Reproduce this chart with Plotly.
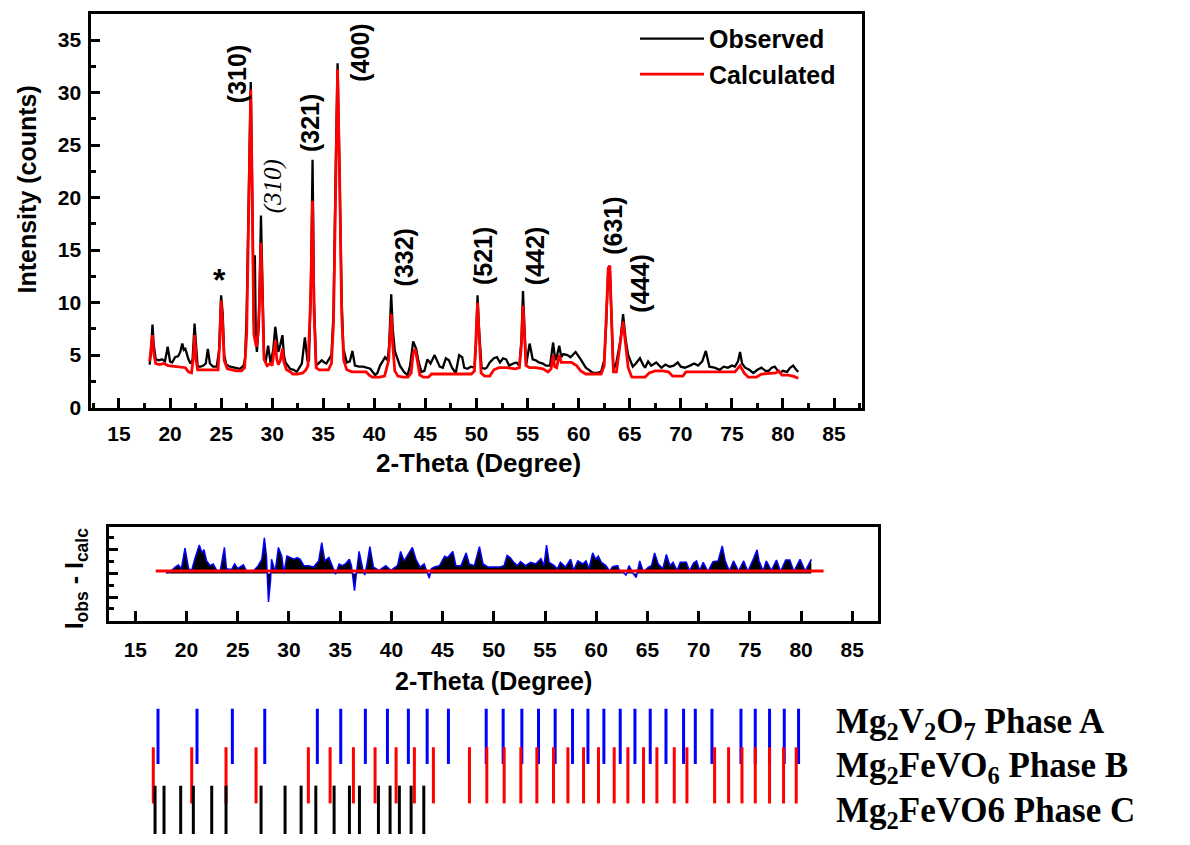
import plotly.graph_objects as go

W, H = 1190, 845


def px(x):
    return x / W


def py(y):
    return 1 - y / H


# ---------------- data ----------------
obs_theta = [18.0, 18.15, 18.28, 18.4, 18.6, 18.9, 19.2, 19.5, 19.77, 20.0, 20.2, 20.5, 20.8, 21.0, 21.2, 21.35,
             21.5, 21.8, 22.0, 22.2, 22.4, 22.55, 22.7, 23.0, 23.26, 23.5, 23.7, 23.9, 24.2, 24.57, 24.8, 25.0,
             25.15, 25.3, 25.5, 25.87, 26.3, 26.85, 27.2, 27.35, 27.5, 27.7, 27.9, 28.05, 28.2, 28.3, 28.4, 28.5,
             28.7, 28.9, 29.05, 29.2, 29.35, 29.6, 29.85, 30.1, 30.3, 30.5, 30.6, 30.8, 31.0, 31.15, 31.3, 31.75,
             32.1, 32.4, 32.9, 33.2, 33.45, 33.6, 33.8, 33.95, 34.1, 34.3, 34.6, 34.85, 35.1, 35.3, 35.8, 36.0,
             36.2, 36.4, 36.6, 36.8, 36.97, 37.3, 37.6, 37.85, 38.1, 38.5, 38.9, 39.3, 39.6, 40.07, 40.3, 40.56,
             41.05, 41.3, 41.45, 41.65, 41.8, 42.0, 42.3, 42.5, 42.9, 43.25, 43.5, 43.8, 44.1, 44.3, 44.6, 44.9,
             45.2, 45.5, 45.9, 46.2, 46.4, 46.7, 47.0, 47.3, 47.6, 47.97, 48.3, 48.6, 48.8, 49.1, 49.45, 49.8,
             49.95, 50.1, 50.25, 50.5, 50.8, 51.0, 51.3, 51.7, 52.0, 52.3, 52.6, 52.9, 53.2, 53.6, 53.9, 54.2,
             54.4, 54.55, 54.7, 54.85, 55.2, 55.5, 55.8, 56.1, 56.5, 56.8, 57.2, 57.5, 57.7, 57.8, 58.1, 58.3,
             58.5, 58.9, 59.2, 59.7, 60.2, 60.7, 61.0, 61.4, 61.8, 62.2, 62.5, 62.7, 62.9, 63.05, 63.2, 63.4,
             63.7, 64.1, 64.35, 64.6, 64.85, 65.3, 65.6, 66.0, 66.3, 66.5, 66.8, 67.1, 67.6, 68.1, 68.5, 68.9,
             69.3, 69.7, 70.0, 70.4, 70.9, 71.3, 71.7, 72.1, 72.45, 72.8, 73.3, 73.8, 74.2, 74.6, 75.0, 75.3,
             75.6, 75.8, 76.0, 76.3, 76.7, 77.1, 77.5, 77.9, 78.3, 78.6, 78.9, 79.2, 79.5, 79.7, 80.0, 80.4,
             80.7, 81.0, 81.3, 81.5]
obs_int = [4.1, 5.5, 7.9, 6.0, 4.6, 4.5, 4.6, 4.4, 5.8, 4.4, 4.3, 4.8, 4.9, 5.3, 6.1, 5.5,
           5.6, 4.6, 4.2, 4.5, 8.0, 5.5, 3.9, 3.9, 4.0, 4.2, 5.6, 4.2, 3.9, 3.9, 5.5, 10.7,
           9.0, 5.0, 4.1, 3.9, 3.8, 3.7, 4.0, 4.7, 9.1, 20.0, 31.0, 20.0, 8.0, 14.5, 6.5, 5.3,
           8.0, 18.3, 10.0, 5.0, 4.3, 5.9, 4.2, 5.5, 7.7, 5.8, 5.3, 6.0, 6.9, 5.0, 4.3, 3.7,
           3.6, 3.4, 4.2, 6.7, 4.5, 4.5, 12.0, 23.6, 10.0, 4.0, 4.3, 4.5, 4.3, 4.2, 5.0, 9.0,
           22.0, 32.8, 22.0, 10.3, 5.6, 4.3, 4.4, 5.4, 4.0, 3.9, 3.9, 3.8, 3.7, 3.1, 3.3, 4.0,
           4.8, 4.5, 6.0, 10.8, 7.5, 5.4, 4.6, 4.0, 3.4, 3.1, 4.0, 6.3, 5.6, 4.5, 3.4, 3.5,
           4.6, 4.2, 5.0, 4.4, 3.9, 3.8, 4.7, 4.5, 3.8, 3.3, 5.0, 4.8, 3.8, 3.7, 3.9, 3.8,
           6.0, 10.7, 7.5, 3.8, 3.7, 3.8, 4.3, 4.7, 4.8, 4.3, 4.7, 4.6, 4.0, 4.2, 4.3, 4.0,
           6.5, 11.1, 7.5, 4.0, 6.1, 4.6, 4.5, 4.3, 4.2, 4.0, 4.0, 6.2, 4.6, 4.6, 5.9, 4.8,
           5.1, 5.0, 4.8, 5.3, 4.6, 3.8, 3.6, 3.3, 3.3, 3.4, 4.5, 8.0, 13.3, 13.5, 9.0, 3.6,
           4.3, 6.5, 8.9, 6.5, 5.0, 3.9, 4.2, 4.7, 4.1, 3.8, 4.4, 4.0, 4.3, 3.8, 4.1, 3.9,
           4.0, 4.3, 3.9, 3.8, 4.0, 4.2, 4.0, 4.4, 5.4, 3.9, 3.8, 3.6, 3.9, 3.8, 4.0, 3.9,
           4.4, 5.3, 4.2, 3.8, 3.6, 3.3, 3.6, 3.8, 3.5, 3.5, 3.8, 3.9, 3.5, 3.3, 3.5, 3.4,
           3.8, 4.0, 3.6, 3.4]

calc_theta = [18.0, 18.15, 18.28, 18.4, 18.6, 19.0, 19.4, 19.8, 20.5, 21.0, 21.5, 21.8, 22.1, 22.3, 22.42, 22.55,
              22.7, 23.5, 24.2, 24.7, 24.85, 25.0, 25.15, 25.3, 25.6, 26.0, 26.5, 27.0, 27.3, 27.5, 27.7, 27.9,
              28.05, 28.2, 28.3, 28.45, 28.6, 28.75, 28.9, 29.05, 29.2, 29.5, 29.8, 30.0, 30.2, 30.3, 30.45, 30.6,
              30.8, 31.0, 31.15, 31.4, 31.8, 32.0, 32.5, 33.0, 33.3, 33.5, 33.75, 33.95, 34.1, 34.3, 34.6, 35.0,
              35.5, 35.8, 36.0, 36.2, 36.4, 36.6, 36.8, 37.0, 37.3, 37.8, 38.5, 39.2, 39.5, 39.8, 40.5, 41.0,
              41.4, 41.65, 41.8, 42.0, 42.3, 42.8, 43.3, 43.6, 43.8, 44.0, 44.2, 44.45, 44.8, 45.3, 45.6, 46.5,
              47.5, 48.5, 49.5, 49.8, 49.95, 50.1, 50.25, 50.45, 50.8, 51.3, 51.7, 52.2, 53.0, 53.8, 54.2, 54.4,
              54.55, 54.7, 54.85, 55.2, 55.8, 56.5, 57.0, 57.3, 57.5, 57.65, 57.85, 58.1, 58.3, 58.7, 59.3, 59.8,
              60.2, 60.7, 61.5, 62.2, 62.5, 62.7, 62.9, 63.05, 63.2, 63.4, 63.7, 64.0, 64.35, 64.6, 64.85, 65.2,
              65.8, 66.5, 66.9, 67.5, 68.2, 68.8, 69.2, 69.8, 70.2, 70.5, 71.5, 72.5, 73.5, 74.5, 75.3, 75.8,
              76.2, 76.6, 77.4, 77.9, 78.8, 79.3, 79.6, 79.9, 80.5, 81.0, 81.5]
calc_int = [4.4, 5.5, 6.9, 5.2, 4.2, 4.1, 4.2, 4.0, 3.9, 3.9, 3.8, 3.4, 3.3, 5.0, 6.9, 4.5,
            3.6, 3.6, 3.6, 3.6, 6.0, 10.2, 8.0, 4.5, 3.7, 3.6, 3.5, 3.5, 3.8, 7.0, 20.0, 30.3,
            20.0, 7.0, 6.5, 5.8, 7.0, 10.0, 15.7, 9.0, 4.6, 4.0, 4.2, 4.0, 5.5, 6.4, 4.6, 4.1,
            4.5, 5.6, 4.3, 3.6, 3.4, 3.2, 3.2, 3.3, 3.6, 4.0, 10.0, 19.7, 9.0, 3.8, 3.6, 3.6,
            3.6, 4.2, 8.0, 20.0, 32.2, 22.0, 9.0, 4.5, 3.6, 3.4, 3.4, 3.4, 3.1, 2.9, 2.9, 3.0,
            4.5, 8.9, 6.0, 3.5, 3.0, 2.9, 2.9, 3.3, 5.2, 5.6, 4.5, 3.1, 2.9, 2.9, 3.2, 3.2,
            3.2, 3.2, 3.2, 3.5, 6.5, 10.0, 7.0, 3.3, 3.0, 3.0, 3.6, 3.8, 3.8, 3.7, 3.8, 6.0,
            9.7, 7.0, 4.0, 3.8, 3.8, 3.7, 3.4, 3.7, 5.0, 3.9, 3.8, 5.0, 4.3, 4.3, 4.3, 4.0,
            3.5, 3.2, 3.2, 3.2, 4.0, 8.0, 13.3, 13.5, 9.0, 3.4, 3.4, 5.5, 8.2, 6.0, 3.8, 2.9,
            2.9, 2.9, 3.3, 3.5, 3.5, 3.4, 3.0, 3.0, 3.0, 3.4, 3.4, 3.4, 3.4, 3.4, 3.4, 4.0,
            3.3, 2.9, 2.9, 3.2, 3.3, 3.3, 3.5, 3.1, 3.1, 3.0, 2.8]

resid_theta = [17.99, 18.4, 18.9, 19.2, 19.5, 19.85, 20.2, 20.5, 20.8, 21.25, 21.5, 21.7, 21.96, 22.3, 22.6, 22.95,
               23.3, 23.7, 23.9, 24.4, 24.7, 25.0, 25.55, 25.9, 26.5, 27.0, 27.35, 27.6, 27.8, 27.9, 28.0, 28.2,
               28.3, 28.65, 28.97, 29.3, 29.5, 29.8, 30.1, 30.5, 30.8, 31.1, 31.45, 31.9, 32.4, 32.9, 33.2, 33.5,
               33.9, 34.2, 34.55, 34.9, 35.2, 35.5, 35.9, 36.1, 36.4, 36.6, 36.85, 37.2, 37.4, 37.65, 37.9, 38.25,
               38.8, 39.45, 39.95, 40.6, 40.9, 41.25, 41.6, 42.05, 42.4, 42.8, 43.2, 43.5, 43.7, 43.9, 44.2, 44.7,
               45.2, 45.5, 46.0, 46.3, 46.8, 47.3, 47.6, 48.1, 48.6, 48.95, 49.45, 49.9, 50.6, 51.0, 51.3, 51.6,
               51.95, 52.3, 52.6, 53.1, 53.6, 54.1, 54.6, 54.9, 55.15, 55.4, 55.9, 56.2, 56.5, 57.0, 57.5, 57.8,
               58.2, 58.7, 59.0, 59.3, 59.65, 59.95, 60.2, 60.5, 60.95, 61.3, 61.6, 62.1, 62.3, 62.6, 62.9, 63.2,
               63.6, 63.9, 64.25, 64.6, 65.1, 65.4, 65.7, 66.05, 66.5, 66.85, 67.2, 67.5, 67.9, 68.2, 68.8, 69.1,
               69.5, 69.8, 70.1, 70.45, 70.9, 71.4, 71.9, 72.3, 72.6, 73.0, 73.4, 73.9, 74.4, 74.8, 75.2, 75.4,
               75.7, 75.9, 76.3, 76.6, 77.1, 77.6, 78.0, 78.5, 78.9, 79.3, 79.9, 80.4, 81.0]
resid_val = [0.3, 0.7, 2.7, 3.6, 2.0, 10.7, 2.0, 1.3, 6.0, 12.0, 8.7, 10.0, 5.3, 3.3, 4.0, 1.3,
             1.3, 11.0, 2.0, 1.7, 4.0, 2.0, 3.6, 0.7, 0.9, 3.3, 6.0, 15.0, 7.3, -7.3, -12.0, -3.3,
             6.0, 0.7, 11.0, 7.3, 0.0, 7.3, 6.7, 6.0, 6.7, 6.0, 3.3, 3.3, 2.7, 5.3, 13.0, 5.3,
             6.7, 3.3, -0.3, 4.0, 3.3, 4.0, 6.0, 3.3, -7.3, 0.7, 9.3, 2.0, -0.7, 4.7, 11.3, 2.7,
             1.3, 3.3, 1.3, 3.3, 9.3, 5.3, 8.0, 11.0, 6.0, 2.7, 4.0, 0.0, -2.0, 2.0, 2.7, 3.3,
             7.3, 6.7, 9.3, 3.3, 3.3, 8.7, 4.0, 3.3, 11.3, 4.0, 2.7, 2.7, 2.7, 3.3, 7.6, 6.7,
             4.7, 3.3, 5.0, 3.3, 4.7, 4.0, 6.3, 3.3, 12.0, 4.7, 3.3, 2.0, 4.7, 2.7, 6.0, 1.3,
             5.3, 4.0, 5.3, 2.0, 8.7, 6.0, 7.3, 4.7, 3.3, 1.0, 2.9, 3.3, 0.8, 0.7, -0.7, 3.3,
             0.0, -1.7, 5.3, 0.7, 2.7, 3.3, 8.7, 4.0, 2.0, 8.0, 3.3, 4.7, 1.2, 4.7, 4.7, 1.0,
             4.4, 5.3, 1.2, 4.7, 0.8, 5.0, 5.3, 11.6, 5.3, 1.0, 5.3, 1.0, 5.3, 0.8, 5.3, 6.7,
             10.0, 5.3, 1.0, 5.3, 1.2, 5.7, 0.8, 5.7, 5.7, 0.8, 6.0, 1.0, 6.0]

zero_theta = [17.0, 82.2]
zero_val = [1.0, 1.0]

phaseA_pos = [18.82, 22.64, 26.10, 29.27, 34.42, 36.71, 39.12, 41.28, 43.33, 45.17, 47.25, 50.95, 52.61, 54.44,
              56.07, 57.70, 59.40, 60.91, 62.47, 64.07, 65.51, 67.01, 68.55, 70.27, 71.42, 73.05, 75.89, 77.29,
              78.69, 80.13, 81.53]
phaseB_pos = [18.36, 22.12, 25.48, 28.42, 33.54, 35.67, 37.95, 40.07, 42.13, 43.92, 45.78, 49.31, 51.01, 52.71,
              54.34, 55.91, 57.54, 58.95, 60.48, 61.94, 63.48, 64.82, 66.35, 67.66, 69.36, 70.60, 73.31, 74.68,
              75.99, 77.29, 78.69, 80.06, 81.30]
phaseC_pos = [18.53, 19.41, 21.04, 22.28, 24.08, 25.48, 28.91, 31.26, 32.83, 34.27, 36.06, 37.56, 38.54, 40.40,
              41.54, 42.45, 43.60, 44.84]

phase_names = ["Mg<sub>2</sub>V<sub>2</sub>O<sub>7</sub> Phase A",
               "Mg<sub>2</sub>FeVO<sub>6</sub> Phase B",
               "Mg<sub>2</sub>FeVO6 Phase C"]

hkl_labels = ["(310)", "(321)", "(400)", "(332)", "(521)", "(442)", "(631)", "(444)"]
hkl_theta = [26.5, 33.7, 38.6, 42.9, 50.7, 55.8, 63.35, 66.0]
hkl_y = [31.8, 27.1, 33.8, 14.3, 14.4, 14.4, 17.3, 11.8]

x_ticks = [15, 20, 25, 30, 35, 40, 45, 50, 55, 60, 65, 70, 75, 80, 85]

# ---------------- styles ----------------
SANS = "Liberation Sans"
SERIF = "Liberation Serif"
TOP_X = [px(91.4), px(861.6)]
TOP_Y = [py(413), py(14)]
RES_X = [px(109.3), px(878.3)]
RES_Y = [py(629), py(534)]
TICK_Y = [0, py(700)]
ROW_LEVELS = {"A": (71, 127), "B": (31, 88), "C": (-10, 49)}


def tick_lines(pos, lo, hi):
    xs, ys = [], []
    for p in pos:
        xs += [p, p, None]
        ys += [lo, hi, None]
    return xs, ys


fig = go.Figure()

fig.add_trace(go.Scatter(x=obs_theta, y=obs_int, mode="lines", name="Observed",
                         line=dict(color="black", width=2.3), xaxis="x", yaxis="y"))
fig.add_trace(go.Scatter(x=calc_theta, y=calc_int, mode="lines", name="Calculated",
                         line=dict(color="red", width=2.8), xaxis="x", yaxis="y"))

fig.add_trace(go.Scatter(x=resid_theta, y=resid_val, mode="lines", fill="tozeroy", fillcolor="black",
                         line=dict(color="blue", width=1.5), showlegend=False, xaxis="x2", yaxis="y2"))
fig.add_trace(go.Scatter(x=zero_theta, y=zero_val, mode="lines", line=dict(color="red", width=3),
                         showlegend=False, xaxis="x2", yaxis="y2"))

for pos, key, col in [(phaseA_pos, "A", "blue"), (phaseB_pos, "B", "red"), (phaseC_pos, "C", "black")]:
    xs, ys = tick_lines(pos, *ROW_LEVELS[key])
    fig.add_trace(go.Scatter(x=xs, y=ys, mode="lines", line=dict(color=col, width=3),
                             showlegend=False, xaxis="x3", yaxis="y3"))

tickfont = dict(family=SANS, size=21, color="black", weight="bold")
common_axis = dict(showline=True, linewidth=3, linecolor="black", mirror=True, showgrid=False,
                   zeroline=False, ticks="inside", tickwidth=3, tickcolor="black", tickfont=tickfont)

fig.update_layout(
    width=W, height=H, margin=dict(l=0, r=0, t=0, b=0),
    paper_bgcolor="white", plot_bgcolor="white",
    xaxis=dict(domain=TOP_X, range=[12.3, 87.7], tickvals=x_ticks, ticklen=10, anchor="y",
               ticklabelstandoff=5,
               minor=dict(ticks="inside", ticklen=5, tickwidth=2.5, tickcolor="black", dtick=2.5, tick0=12.5),
               **common_axis),
    yaxis=dict(domain=TOP_Y, range=[0, 37.5], dtick=5, tick0=0, ticklen=9, anchor="x",
               ticklabelstandoff=3,
               minor=dict(ticks="inside", ticklen=5, tickwidth=2.5, tickcolor="black", dtick=2.5, tick0=0),
               **common_axis),
    xaxis2=dict(domain=RES_X, range=[12.46, 87.54], tickvals=x_ticks, ticklen=10, anchor="y2",
                ticklabelstandoff=8,
                **common_axis),
    yaxis2=dict(domain=RES_Y, range=[-20, 19.6], dtick=10, tick0=0, ticklen=9, anchor="x2",
                showticklabels=False,
                minor=dict(ticks="inside", ticklen=5, tickwidth=2.5, tickcolor="black", dtick=5, tick0=0),
                **common_axis),
    xaxis3=dict(domain=TOP_X, range=[12.3, 87.7], visible=False, anchor="y3"),
    yaxis3=dict(domain=TICK_Y, range=[0, 145], visible=False, anchor="x3"),
    legend=dict(x=px(635), y=py(16), xanchor="left", yanchor="top", bgcolor="rgba(0,0,0,0)",
                itemwidth=64,
                font=dict(family=SANS, size=25, color="black", weight="bold"), tracegroupgap=0),
)

ann = []
title_font = dict(family=SANS, size=25, color="black", weight="bold")


def paper_text(text, x, y, font, angle=0, xa="center"):
    return dict(text=text, x=px(x), y=py(y), xref="paper", yref="paper", textangle=angle,
                xanchor=xa, yanchor="middle", showarrow=False, font=font)


ann.append(paper_text("Intensity (counts)", 27, 192, title_font, -90))
ann.append(paper_text("2-Theta (Degree)", 478, 469, dict(family=SANS, size=26, color="black", weight="bold")))
ann.append(paper_text("I<sub>obs</sub> - I<sub>calc</sub>", 76, 586, title_font, -90))
ann.append(paper_text("2-Theta (Degree)", 493, 690, title_font))

for lab, tx, ty in zip(hkl_labels, hkl_theta, hkl_y):
    ann.append(dict(text=lab, x=tx, y=ty, xref="x", yref="y", textangle=-90, showarrow=False,
                    xanchor="center", yanchor="middle",
                    font=dict(family=SANS, size=25, color="black", weight="bold")))
ann.append(dict(text="(310)", x=30.1, y=21.1, xref="x", yref="y", textangle=-90, showarrow=False,
                xanchor="center", yanchor="middle",
                font=dict(family=SERIF, size=25, color="black", style="italic")))
ann.append(dict(text="*", x=24.8, y=12.2, xref="x", yref="y", showarrow=False,
                xanchor="center", yanchor="middle",
                font=dict(family=SANS, size=32, color="black", weight="bold")))

for name, yy in zip(phase_names, [733, 778, 823]):
    ann.append(paper_text(name, 834, yy, dict(family=SERIF, size=35, color="black", weight="bold"),
                          xa="left"))

fig.update_layout(annotations=ann)

fig.write_html("out.html", post_script="document.body.style.margin='0px';",
               config={"displayModeBar": False})
